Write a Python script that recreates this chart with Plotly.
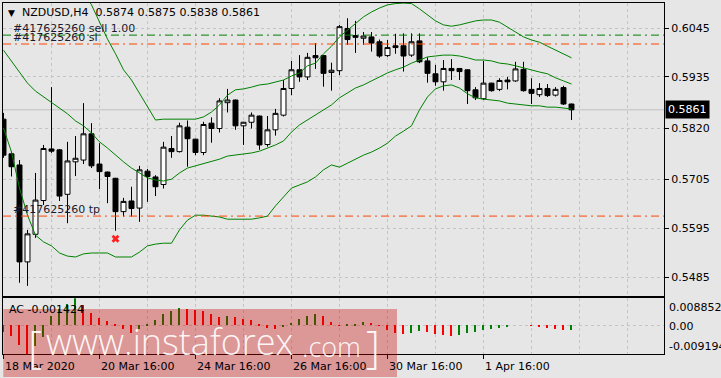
import plotly.graph_objects as go

# ---------------- data ----------------
bar_index = list(range(72))
opens = [0.5840, 0.5762, 0.5737, 0.5519, 0.5581, 0.5657, 0.5773, 0.5771, 0.5671, 0.5744,
         0.5748, 0.5807, 0.5739, 0.5721, 0.5707, 0.5632, 0.5656, 0.5640, 0.5723, 0.5710,
         0.5693, 0.5774, 0.5767, 0.5822, 0.5795, 0.5765, 0.5831, 0.5819, 0.5877, 0.5883,
         0.5825, 0.5833, 0.5847, 0.5783, 0.5816, 0.5849, 0.5909, 0.5951, 0.5935, 0.5983,
         0.5983, 0.5945, 0.5949, 0.6044, 0.6028, 0.6022, 0.6025, 0.6014, 0.5983, 0.6005,
         0.6005, 0.5984, 0.6016, 0.5971, 0.5942, 0.5924, 0.5954, 0.5954, 0.5951, 0.5906,
         0.5886, 0.5921, 0.5907, 0.5928, 0.5926, 0.5952, 0.5907, 0.5895, 0.5909, 0.5894,
         0.5911, 0.5874]
highs = [0.5854, 0.5767, 0.5748, 0.5591, 0.5719, 0.5782, 0.5912, 0.5773, 0.5789, 0.5802,
         0.5876, 0.5831, 0.5786, 0.5722, 0.5708, 0.5663, 0.5688, 0.5735, 0.5728, 0.5714,
         0.5789, 0.5802, 0.5832, 0.5837, 0.5796, 0.5834, 0.5844, 0.5887, 0.5908, 0.5884,
         0.5834, 0.5855, 0.5848, 0.5847, 0.5863, 0.5928, 0.5971, 0.5984, 0.5989, 0.6011,
         0.5984, 0.5967, 0.6052, 0.6067, 0.6061, 0.6036, 0.6036, 0.6019, 0.6018, 0.6032,
         0.6033, 0.6033, 0.6033, 0.5979, 0.5962, 0.5973, 0.5975, 0.5955, 0.5952, 0.5912,
         0.5971, 0.5922, 0.5932, 0.5935, 0.5969, 0.5969, 0.5932, 0.5921, 0.5919, 0.5912,
         0.5915, 0.5875]
lows = [0.5753, 0.5711, 0.5472, 0.5465, 0.5573, 0.5647, 0.5764, 0.5656, 0.5606, 0.5712,
        0.5739, 0.5730, 0.5683, 0.5651, 0.5589, 0.5621, 0.5621, 0.5609, 0.5654, 0.5667,
        0.5684, 0.5753, 0.5765, 0.5733, 0.5759, 0.5759, 0.5787, 0.5810, 0.5855, 0.5816,
        0.5782, 0.5819, 0.5771, 0.5778, 0.5803, 0.5846, 0.5894, 0.5924, 0.5928, 0.5953,
        0.5913, 0.5904, 0.5939, 0.6007, 0.5989, 0.6007, 0.5992, 0.5978, 0.5980, 0.5987,
        0.5947, 0.5980, 0.5966, 0.5922, 0.5915, 0.5904, 0.5928, 0.5928, 0.5874, 0.5883,
        0.5883, 0.5902, 0.5903, 0.5907, 0.5924, 0.5902, 0.5874, 0.5890, 0.5890, 0.5891,
        0.5872, 0.5838]
closes = [0.5759, 0.5733, 0.5519, 0.5582, 0.5658, 0.5774, 0.5768, 0.5667, 0.5746, 0.5752,
          0.5807, 0.5735, 0.5722, 0.5711, 0.5632, 0.5655, 0.5639, 0.5726, 0.5711, 0.5688,
          0.5777, 0.5767, 0.5825, 0.5796, 0.5765, 0.5828, 0.5819, 0.5881, 0.5883, 0.5825,
          0.5833, 0.5849, 0.5782, 0.5816, 0.5853, 0.5909, 0.5951, 0.5935, 0.5979, 0.5978,
          0.5943, 0.5950, 0.6048, 0.6019, 0.6024, 0.6027, 0.6011, 0.5982, 0.6001, 0.6001,
          0.5982, 0.6014, 0.5969, 0.5943, 0.5924, 0.5954, 0.5949, 0.5947, 0.5904, 0.5888,
          0.5921, 0.5904, 0.5927, 0.5924, 0.5953, 0.5904, 0.5898, 0.5909, 0.5893, 0.5907,
          0.5874, 0.5861]

bb_upper = [0.6171, 0.6175, 0.6207, 0.6218, 0.6227, 0.6216, 0.6198, 0.6187, 0.6171, 0.6142,
            0.6126, 0.6097, 0.6058, 0.6020, 0.5987, 0.5951, 0.5928, 0.5897, 0.5867, 0.5838,
            0.5840, 0.5840, 0.5840, 0.5840, 0.5840, 0.5845, 0.5856, 0.5872, 0.5894, 0.5906,
            0.5908, 0.5912, 0.5917, 0.5919, 0.5924, 0.5928, 0.5937, 0.5944, 0.5960, 0.5966,
            0.5987, 0.6004, 0.6025, 0.6040, 0.6056, 0.6070, 0.6081, 0.6090, 0.6097, 0.6100,
            0.6101, 0.6100, 0.6088, 0.6074, 0.6061, 0.6052, 0.6049, 0.6052, 0.6056, 0.6061,
            0.6063, 0.6063, 0.6058, 0.6047, 0.6036, 0.6025, 0.6018, 0.6013, 0.6004, 0.5995,
            0.5987, 0.5978]
bb_middle = [0.5995, 0.5971, 0.5946, 0.5921, 0.5903, 0.5890, 0.5876, 0.5863, 0.5852, 0.5836,
             0.5825, 0.5809, 0.5789, 0.5775, 0.5759, 0.5744, 0.5730, 0.5719, 0.5708, 0.5703,
             0.5701, 0.5705, 0.5719, 0.5730, 0.5735, 0.5739, 0.5744, 0.5750, 0.5757, 0.5759,
             0.5762, 0.5764, 0.5768, 0.5775, 0.5782, 0.5791, 0.5811, 0.5827, 0.5838, 0.5849,
             0.5861, 0.5872, 0.5888, 0.5899, 0.5910, 0.5917, 0.5926, 0.5935, 0.5944, 0.5951,
             0.5957, 0.5966, 0.5973, 0.5980, 0.5982, 0.5984, 0.5984, 0.5982, 0.5978, 0.5973,
             0.5973, 0.5971, 0.5966, 0.5964, 0.5960, 0.5955, 0.5951, 0.5946, 0.5942, 0.5933,
             0.5926, 0.5919]
bb_lower = [0.5820, 0.5766, 0.5685, 0.5624, 0.5579, 0.5564, 0.5555, 0.5539, 0.5532, 0.5530,
            0.5537, 0.5539, 0.5539, 0.5539, 0.5530, 0.5530, 0.5530, 0.5541, 0.5555, 0.5559,
            0.5561, 0.5561, 0.5591, 0.5613, 0.5624, 0.5624, 0.5622, 0.5620, 0.5615, 0.5615,
            0.5615, 0.5615, 0.5618, 0.5622, 0.5645, 0.5665, 0.5685, 0.5692, 0.5699, 0.5710,
            0.5726, 0.5737, 0.5732, 0.5741, 0.5750, 0.5759, 0.5766, 0.5775, 0.5786, 0.5802,
            0.5813, 0.5825, 0.5861, 0.5890, 0.5908, 0.5915, 0.5917, 0.5910, 0.5897, 0.5888,
            0.5885, 0.5883, 0.5881, 0.5876, 0.5874, 0.5872, 0.5870, 0.5870, 0.5867, 0.5867,
            0.5865, 0.5863]

ac_values = [-0.0020, -0.0036, -0.0063, -0.009194, -0.0068, -0.0039, 0.0030, 0.0052, 0.0068, 0.008852,
             0.0066, 0.0041, 0.0025, 0.0014, 0.0003, -0.0013, -0.0024, -0.0013, 0.0005, 0.0016,
             0.0036, 0.0046, 0.0055, 0.0053, 0.0049, 0.0046, 0.0036, 0.0027, 0.0029, 0.0028,
             0.0021, 0.0017, 0.0003, -0.0010, -0.0013, -0.0003, 0.0009, 0.0022, 0.0030, 0.0036,
             0.0030, 0.0011, 0.0001, 0.0002, 0.0004, 0.0010, 0.0008, -0.0002, -0.0016, -0.0025,
             -0.0027, -0.0025, -0.0019, -0.0022, -0.0027, -0.0031, -0.0033, -0.0030, -0.0026, -0.0023,
             -0.0016, -0.0013, -0.0010, -0.0007, 0.0000, 0.0000, -0.0002, -0.0007, -0.0010, -0.0012,
             -0.0016, -0.001424]

price_ticks = [0.6045, 0.5935, 0.5820, 0.5705, 0.5595, 0.5485]
date_tick_bars = [0, 12, 24, 36, 48, 60]
date_tick_labels = ["18 Mar 2020", "20 Mar 16:00", "24 Mar 16:00", "26 Mar 16:00",
                    "30 Mar 16:00", "1 Apr 16:00"]

sell_price = 0.6029
sl_price = 0.6009
tp_price = 0.5622
close_marker_bar = [14]
close_marker_price = [0.5571]
last_price = 0.5861
ac_max = 0.008852
ac_min = -0.009194
ac_last = -0.001424
header = "NZDUSD,H4  0.5874 0.5875 0.5838 0.5861"
order_id = "#417625260"

# ---------------- figure ----------------
FONT = "DejaVu Sans"
BG = "#e6e6e6"
GRID = "#c4c4c4"
GREEN = "#008000"
RED = "#ff0000"
ORANGE = "#ff4500"

W, H = 721, 378
ML, MR, MT, MB = 3, 57, 3, 24
PW, PH = W - ML - MR, H - MT - MB


def px_x(px):
    return (px - ML) / PW


def px_y(py):
    return (H - MB - py) / PH


fig = go.Figure()

fig.add_trace(go.Candlestick(
    x=bar_index, open=opens, high=highs, low=lows, close=closes,
    increasing=dict(line=dict(color="black", width=1), fillcolor="white"),
    decreasing=dict(line=dict(color="black", width=1), fillcolor="black"),
    whiskerwidth=0, hoverinfo="skip", showlegend=False,
    xaxis="x", yaxis="y"))

for band in (bb_upper, bb_middle, bb_lower):
    fig.add_trace(go.Scatter(x=bar_index, y=band, mode="lines",
                             line=dict(color=GREEN, width=1),
                             hoverinfo="skip", showlegend=False,
                             xaxis="x", yaxis="y"))

fig.add_trace(go.Scatter(x=close_marker_bar, y=close_marker_price, mode="markers",
                         marker=dict(symbol="x", size=7, color="#ff2020",
                                     line=dict(width=0)),
                         hoverinfo="skip", showlegend=False, xaxis="x", yaxis="y"))

ac_colors = [RED]
for k in range(1, len(ac_values)):
    ac_colors.append(GREEN if ac_values[k] > ac_values[k - 1] else RED)

fig.add_trace(go.Bar(x=bar_index, y=ac_values, marker=dict(color=ac_colors, line=dict(width=0)),
                     width=0.2, hoverinfo="skip", showlegend=False,
                     xaxis="x2", yaxis="y2"))

x_range = [-0.0625, 82.5625]
main_bottom = px_y(296)
sub_top = px_y(298.3)

axis_common = dict(showline=True, linecolor="black", linewidth=1, mirror=True,
                   zeroline=False, fixedrange=True)

fig.update_layout(
    width=W, height=H,
    margin=dict(l=ML, r=MR, t=MT, b=MB, pad=0),
    paper_bgcolor=BG, plot_bgcolor=BG,
    font=dict(family=FONT, size=11, color="black"),
    showlegend=False,
    boxgap=0.38, boxgroupgap=0,
    bargap=0,
    xaxis=dict(domain=[0, 1], anchor="y", range=x_range,
               tickvals=list(range(0, 84, 6)), showticklabels=False, ticks="",
               showgrid=True, gridcolor=GRID, griddash="3px,3px", gridwidth=1,
               rangeslider=dict(visible=False), **axis_common),
    yaxis=dict(domain=[main_bottom, 1], anchor="x", side="right",
               range=[0.544227, 0.610122],
               tickvals=price_ticks, ticktext=[f"{v:.4f}" for v in price_ticks],
               ticks="outside", ticklen=4, tickcolor="black",
               showgrid=True, gridcolor=GRID, griddash="3px,3px", gridwidth=1,
               tickfont=dict(family=FONT, size=11, color="black"),
               **axis_common),
    xaxis2=dict(domain=[0, 1], anchor="y2", range=x_range,
                tickvals=date_tick_bars, showticklabels=False,
                ticks="outside", ticklen=4, tickcolor="black",
                showgrid=True, gridcolor=GRID, griddash="3px,3px", gridwidth=1,
                minor=dict(tickmode="linear", tick0=0, dtick=6, showgrid=True,
                           gridcolor=GRID, griddash="3px,3px", ticks=""),
                **axis_common),
    yaxis2=dict(domain=[0, sub_top], anchor="x2", side="right",
                range=[ac_min, ac_max],
                tickvals=[0], showticklabels=False, ticks="",
                showgrid=True, gridcolor=GRID, griddash="3px,3px", gridwidth=1,
                **axis_common),
)

shapes = []
# current price line
shapes.append(dict(type="line", xref="x domain", yref="y", x0=0, x1=1,
                   y0=last_price, y1=last_price,
                   line=dict(color="#c0c0c0", width=1), layer="below"))
# order lines
shapes.append(dict(type="line", xref="x domain", yref="y", x0=0, x1=1,
                   y0=sell_price, y1=sell_price,
                   line=dict(color=GREEN, width=1, dash="8px,4px,2px,4px"), layer="above"))
for p in (sl_price, tp_price):
    shapes.append(dict(type="line", xref="x domain", yref="y", x0=0, x1=1,
                       y0=p, y1=p,
                       line=dict(color=ORANGE, width=1, dash="8px,4px,2px,4px"), layer="above"))
# watermark box
shapes.append(dict(type="rect", xref="paper", yref="paper",
                   x0=px_x(3.3), x1=px_x(397), y0=px_y(377), y1=px_y(309),
                   fillcolor="rgba(203,0,0,0.34)", line=dict(width=0), layer="above"))

annotations = []
# header
annotations.append(dict(xref="paper", yref="paper", x=px_x(6), y=px_y(12.5),
                        xanchor="left", yanchor="middle", showarrow=False,
                        text="▼", font=dict(family=FONT, size=9, color="black")))
annotations.append(dict(xref="paper", yref="paper", x=px_x(20), y=px_y(12.5),
                        xanchor="left", yanchor="middle", showarrow=False,
                        text=header, font=dict(family=FONT, size=11, color="black")))
# order labels
order_text_color = "#1a1a2e"
annotations.append(dict(xref="paper", yref="y", x=px_x(11), y=sell_price, yshift=7,
                        xanchor="left", yanchor="middle", showarrow=False,
                        text=order_id + " sell 1.00",
                        font=dict(family=FONT, size=11, color=order_text_color)))
annotations.append(dict(xref="paper", yref="y", x=px_x(11), y=sl_price, yshift=7,
                        xanchor="left", yanchor="middle", showarrow=False,
                        text=order_id + " sl",
                        font=dict(family=FONT, size=11, color=order_text_color)))
annotations.append(dict(xref="paper", yref="y", x=px_x(11), y=tp_price, yshift=7,
                        xanchor="left", yanchor="middle", showarrow=False,
                        text=order_id + " tp",
                        font=dict(family=FONT, size=11, color=order_text_color)))
# last price box
annotations.append(dict(xref="paper", yref="y", x=1, y=last_price, xshift=1,
                        xanchor="left", yanchor="middle", showarrow=False,
                        text=f"{last_price:.4f}", bgcolor="black", borderpad=2,
                        font=dict(family=FONT, size=11, color="white")))
# AC labels
annotations.append(dict(xref="paper", yref="y2 domain", x=px_x(7), y=0.79,
                        xanchor="left", yanchor="middle", showarrow=False,
                        text=f"AC {ac_last:.6f}",
                        font=dict(family=FONT, size=11, color="black")))
for val, frac in ((ac_max, 0.831), (0.0, 0.49), (ac_min, 0.131)):
    txt = "0.00" if val == 0 else f"{val:.6f}"
    annotations.append(dict(xref="paper", yref="y2 domain", x=1, xshift=3, y=frac,
                            xanchor="left", yanchor="middle", showarrow=False,
                            text=txt, font=dict(family=FONT, size=11, color="black")))
# date labels
for b, lab in zip(date_tick_bars, date_tick_labels):
    annotations.append(dict(xref="x2", yref="paper", x=b, xshift=-1, y=px_y(366),
                            xanchor="left", yanchor="middle", showarrow=False,
                            text=lab, font=dict(family=FONT, size=11, color="black")))
# watermark text
wm_font = dict(family="Open Sans", size=44, color="rgba(255,255,255,0.92)", weight=300)
annotations.append(dict(xref="paper", yref="paper", x=px_x(26), y=px_y(346),
                        xanchor="left", yanchor="middle", showarrow=False,
                        text="[", font=wm_font))
annotations.append(dict(xref="paper", yref="paper", x=px_x(44), y=px_y(341),
                        xanchor="left", yanchor="middle", showarrow=False,
                        text="www.instaforex",
                        font=dict(family="Open Sans", size=36, color="rgba(255,255,255,0.92)", weight=300)))
annotations.append(dict(xref="paper", yref="paper", x=px_x(300), y=px_y(346),
                        xanchor="left", yanchor="middle", showarrow=False,
                        text=".com",
                        font=dict(family="Open Sans", size=27, color="rgba(255,255,255,0.92)", weight=300)))
annotations.append(dict(xref="paper", yref="paper", x=px_x(364), y=px_y(346),
                        xanchor="left", yanchor="middle", showarrow=False,
                        text="]", font=wm_font))

fig.update_layout(shapes=shapes, annotations=annotations)

fig.write_html("out.html", include_plotlyjs=True, config={"displayModeBar": False})
